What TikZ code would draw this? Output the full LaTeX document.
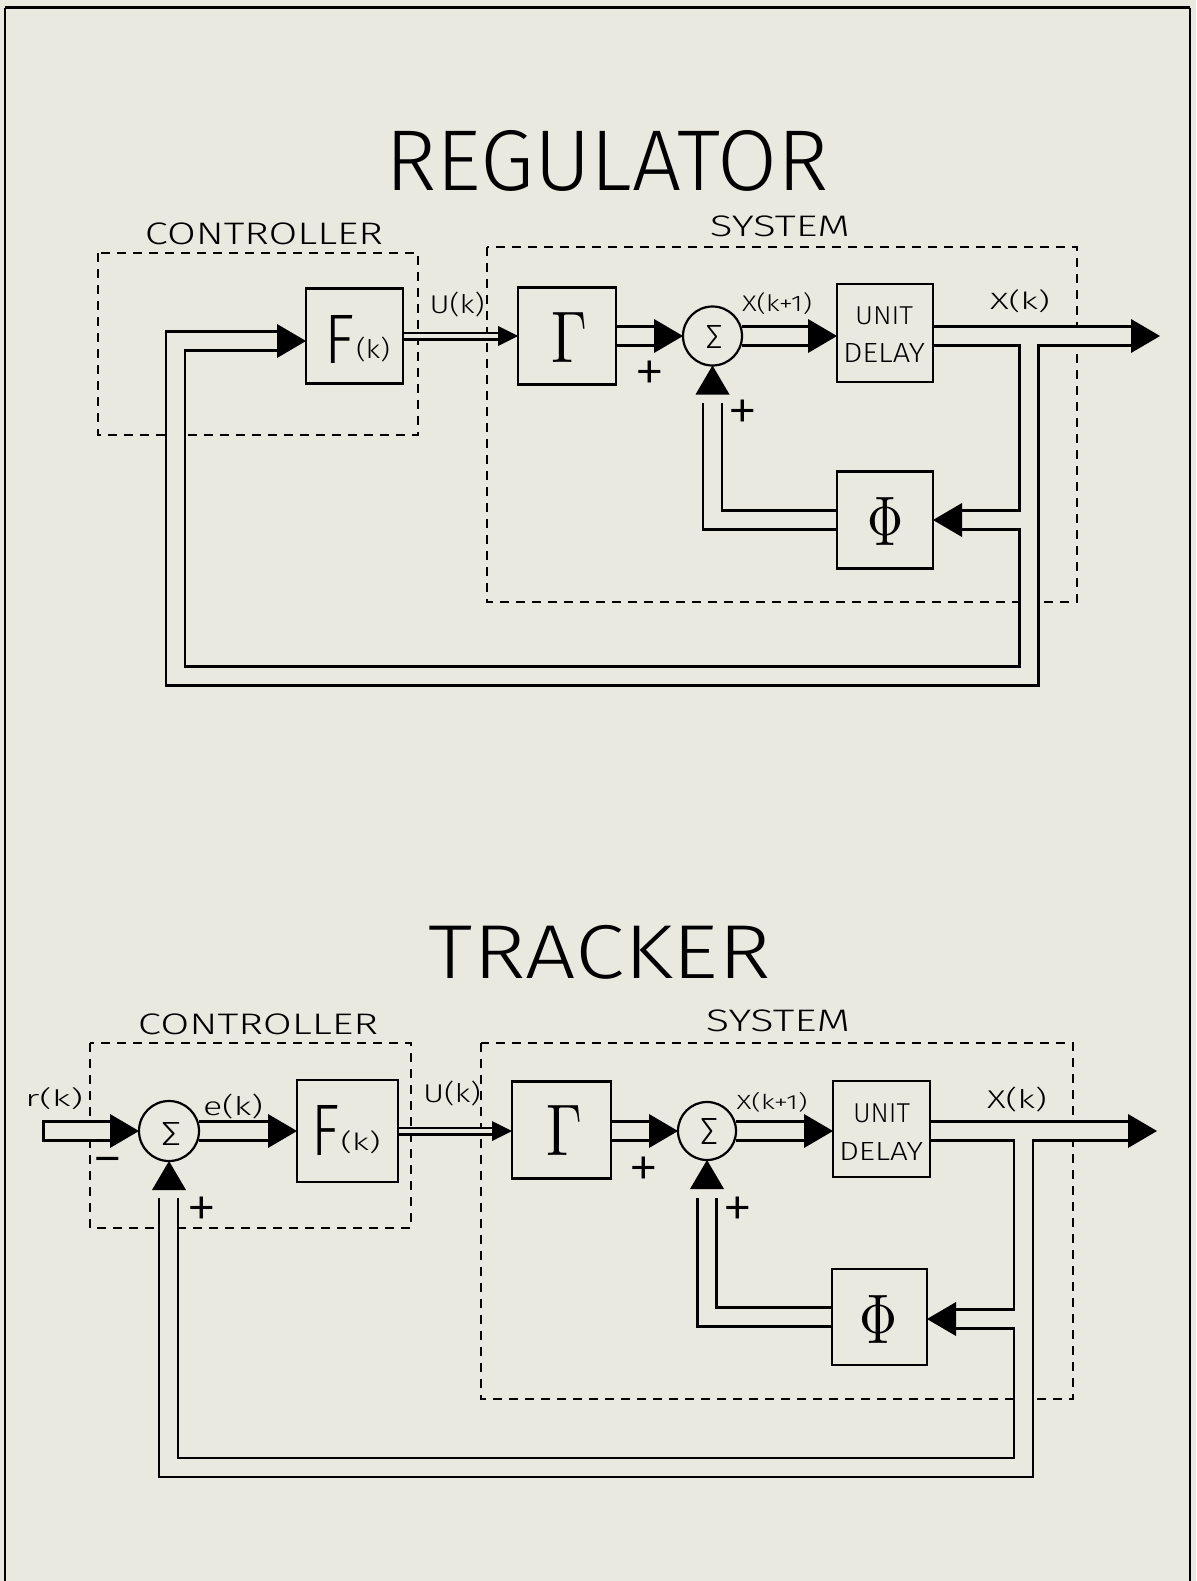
\documentclass[tikz,border=0pt]{standalone}
\usepackage[no-math]{fontspec}
\usepackage{graphicx}
\setmainfont{Fira Sans Light}
\newfontfamily\titlefont{Fira Sans Light}
\usetikzlibrary{calc}
\pgfdeclarelayer{bgl}\pgfdeclarelayer{pblk}\pgfdeclarelayer{pwht}
\pgfsetlayers{bgl,pblk,pwht,main}
\definecolor{bgc}{RGB}{233,233,224}
\newcommand{\fit}[3]{\resizebox*{#1pt}{#2pt}{#3}}
\newcommand{\pipe}[1]{\begin{pgfonlayer}{pblk}\draw[pipeout] #1;\end{pgfonlayer}\begin{pgfonlayer}{pwht}\draw[pipein] #1;\end{pgfonlayer}}
\newcommand{\thinpipe}[1]{\begin{pgfonlayer}{pblk}\draw[thinout] #1;\end{pgfonlayer}\begin{pgfonlayer}{pwht}\draw[thinin] #1;\end{pgfonlayer}}
\newcommand{\arrR}[1]{\fill (#1) -- ++(-29,-17) -- ++(0,34) -- cycle;}
\newcommand{\arrL}[1]{\fill (#1) -- ++(29,-17) -- ++(0,34) -- cycle;}
\newcommand{\arrU}[1]{\fill (#1) -- ++(-17,29) -- ++(34,0) -- cycle;}
\newcommand{\arrS}[1]{\fill (#1) -- ++(-20,-10) -- ++(0,20) -- cycle;}
\newcommand{\Fk}[4]{\fit{#1}{#2}{F}\hspace{1pt}\raisebox{0.2\dimexpr #4pt\relax}{\fit{#3}{#4}{(k)}}}
\newcommand{\pls}{{\fontsize{62}{62}\selectfont +}}
\newcommand{\mns}{{\fontsize{62}{62}\selectfont −}}
\begin{document}
\begin{tikzpicture}[x=1pt,y=-1pt,
 box/.style={draw, line width=2.6pt, rectangle, inner sep=0pt, outer sep=0pt},
 sumc/.style={draw, circle, line width=2.2pt, inner sep=0pt, outer sep=0pt, minimum size=59pt},
 dashbox/.style={draw, line width=2pt, dash pattern=on 9pt off 7pt},
 pipeout/.style={draw=black, line width=21.5pt, line join=miter, line cap=butt},
 pipein/.style={draw=bgc, line width=16.5pt, line join=miter, line cap=butt},
 thinout/.style={draw=black, line width=9pt, line cap=butt},
 thinin/.style={draw=bgc, line width=4.6pt, line cap=butt},
 lab/.style={inner sep=0pt, outer sep=0pt},
 sgn/.style={inner sep=0pt, outer sep=0pt, anchor=north},
 frame/.style={line width=2pt}]
\useasboundingbox (0,0) rectangle (1196,1581);
\begin{pgfonlayer}{bgl}
\fill[bgc] (0,0) rectangle (1196,1581);
\draw[dashbox] (98,253) rectangle (418,435);
\draw[dashbox] (487,247) rectangle (1077,602);
\draw[dashbox] (90,1043) rectangle (411,1228);
\draw[dashbox] (481,1043) rectangle (1073,1399);
\end{pgfonlayer}
% frame
\draw[frame] (5,1581) -- (5,8);
\draw[line width=3pt] (5,8) -- (1190,8);
\draw[frame] (1190,8) -- (1190,1581);

% ===== REGULATOR =====
\node[lab] (Rtitle) at (607,161) {\titlefont\fit{443}{61}{REGULATOR}};
\node[lab] (Rctl) at (264,234) {\fit{238}{22}{CONTROLLER}};
\node[lab] (Rsysl) at (780,226) {\fit{140}{21}{SYSTEM}};

\node[box, minimum width=97pt, minimum height=95pt] (RF) at (354.5,336) {};
\node[box, minimum width=98pt, minimum height=97pt] (RG) at (567,336) {};
\node[sumc] (RS) at (712.5,336) {};
\node[box, minimum width=96pt, minimum height=98pt] (RU) at (885,333) {};
\node[box, minimum width=96pt, minimum height=97pt] (RP) at (885,520) {};

\node[lab] at (357.5,339) {\Fk{30}{48}{34}{25}};
\node[lab] at (569,337) {\fit{36}{50}{$\Gamma$}};
\node[lab] at (714,336.5) {\fit{17}{23}{Σ}};
\node[lab] at (884,316) {\fit{58}{18}{UNIT}};
\node[lab] at (884,352.5) {\fit{82}{19}{DELAY}};
\node[lab] at (885,521) {\fit{36}{48}{$\Phi$}};
\node[lab] at (457,305) {\fit{55}{25}{U(k)}};
\node[lab] at (777,304) {\fit{70}{22}{X(k+1)}};
\node[lab] at (1020,301) {\fit{60}{23}{X(k)}};
\node[sgn] at (650,361) {\pls};
\node[sgn] at (743,400) {\pls};

\coordinate (Rj) at (1029,336);
\coordinate (Rout) at (1160,336);
\coordinate (Rc1) at (1029,676);
\coordinate (Rc2) at (175.5,676);
\coordinate (Rc3) at (175.5,341);
\coordinate (RFtip) at (RF.west |- Rc3);
\coordinate (Rphi) at (1029,520);
\coordinate (Rk1) at (RS.south |- RP.west);
\coordinate (Rk2) at ($(RS.south)+(0,37)$);

\pipe{(RG.east) -- ($(RS.west)+(-27,0)$)}
\pipe{(RS.east) -- ($(RU.west |- RS.east)+(-26,0)$)}
\pipe{(RU.east |- RS.east) -- ($(Rout)+(-27,0)$)}
\pipe{(Rj) -- (Rc1) -- (Rc2) -- (Rc3) -- ($(RFtip)+(-27,0)$)}
\pipe{(Rphi) -- ($(RP.east |- Rphi)+(27,0)$)}
\pipe{(RP.west) -- (Rk1) -- (Rk2)}
\thinpipe{(RF.east) -- ($(RG.west)+(-18,0)$)}

\arrR{RS.west}
\arrR{RU.west |- RS.east}
\arrR{Rout}
\arrR{RFtip}
\arrL{RP.east |- Rphi}
\arrU{RS.south}
\arrS{RG.west}

% ===== TRACKER =====
\node[lab] (Ttitle) at (600,952) {\titlefont\fit{342}{54}{TRACKER}};
\node[lab] (Tctl) at (258,1024) {\fit{240}{21}{CONTROLLER}};
\node[lab] (Tsysl) at (778,1021) {\fit{144}{22}{SYSTEM}};

\node[sumc, minimum size=60pt] (TS1) at (169,1131) {};
\node[box, minimum width=101pt, minimum height=102pt] (TF) at (347.5,1131) {};
\node[box, minimum width=99pt, minimum height=97pt] (TG) at (561.5,1130) {};
\node[sumc, minimum size=58pt] (TS2) at (707,1131) {};
\node[box, minimum width=97pt, minimum height=96pt] (TU) at (881.5,1129) {};
\node[box, minimum width=95pt, minimum height=96pt] (TP) at (879.5,1317) {};

\node[lab] at (54,1099) {\fit{58}{22}{r(k)}};
\node[lab] at (233,1107) {\fit{60}{25}{e(k)}};
\node[lab] at (452,1094) {\fit{58}{25}{U(k)}};
\node[lab] at (772,1102) {\fit{71}{20}{X(k+1)}};
\node[lab] at (1017,1100) {\fit{60}{25}{X(k)}};
\node[lab] at (881.5,1113.5) {\fit{57}{19}{UNIT}};
\node[lab] at (881,1151) {\fit{84}{18}{DELAY}};
\node[lab] at (346,1130) {\Fk{28}{50}{40}{23}};
\node[lab] at (564,1130) {\fit{36}{50}{$\Gamma$}};
\node[lab] at (878,1319) {\fit{38}{48}{$\Phi$}};
\node[lab] at (171,1134) {\fit{20}{23}{Σ}};
\node[lab] at (709,1131) {\fit{18}{26}{Σ}};
\node[sgn] at (108,1157.5) {\mns};
\node[sgn] at (644,1157) {\pls};
\node[sgn] at (738,1197) {\pls};
\node[sgn] at (202,1197) {\pls};

\coordinate (Tin) at (42,1131);
\coordinate (Tj) at (1023.5,1131);
\coordinate (Tout) at (1157,1131);
\coordinate (Tc1) at (1023.5,1467.5);
\coordinate (Tc2) at (168.5,1467.5);
\coordinate (Tc3) at (168.5,1198);
\coordinate (Tphi) at (1023.5,1319);
\coordinate (Tk1) at (TS2.south |- TP.west);
\coordinate (Tk2) at ($(TS2.south)+(0,38)$);

\pipe{(Tin) -- ($(TS1.west)+(-27,0)$)}
\draw[line width=2.5pt] ($(Tin)+(1.25,-10.75)$) -- ($(Tin)+(1.25,10.75)$);
\pipe{(TS1.east) -- ($(TF.west)+(-27,0)$)}
\thinpipe{(TF.east) -- ($(TG.west |- TF.east)+(-18,0)$)}
\pipe{(TG.east |- TS2.west) -- ($(TS2.west)+(-27,0)$)}
\pipe{(TS2.east) -- ($(TU.west |- TS2.east)+(-27,0)$)}
\pipe{(TU.east |- TS2.east) -- ($(Tout)+(-27,0)$)}
\pipe{(Tj) -- (Tc1) -- (Tc2) -- (Tc3)}
\pipe{(Tphi) -- ($(TP.east |- Tphi)+(28,0)$)}
\pipe{(TP.west) -- (Tk1) -- (Tk2)}

\arrR{TS1.west}
\arrR{TF.west}
\arrS{TG.west |- TF.east}
\arrR{TS2.west}
\arrR{TU.west |- TS2.east}
\arrR{Tout}
\arrL{TP.east |- Tphi}
\arrU{TS1.south}
\arrU{TS2.south}
\end{tikzpicture}
\end{document}
